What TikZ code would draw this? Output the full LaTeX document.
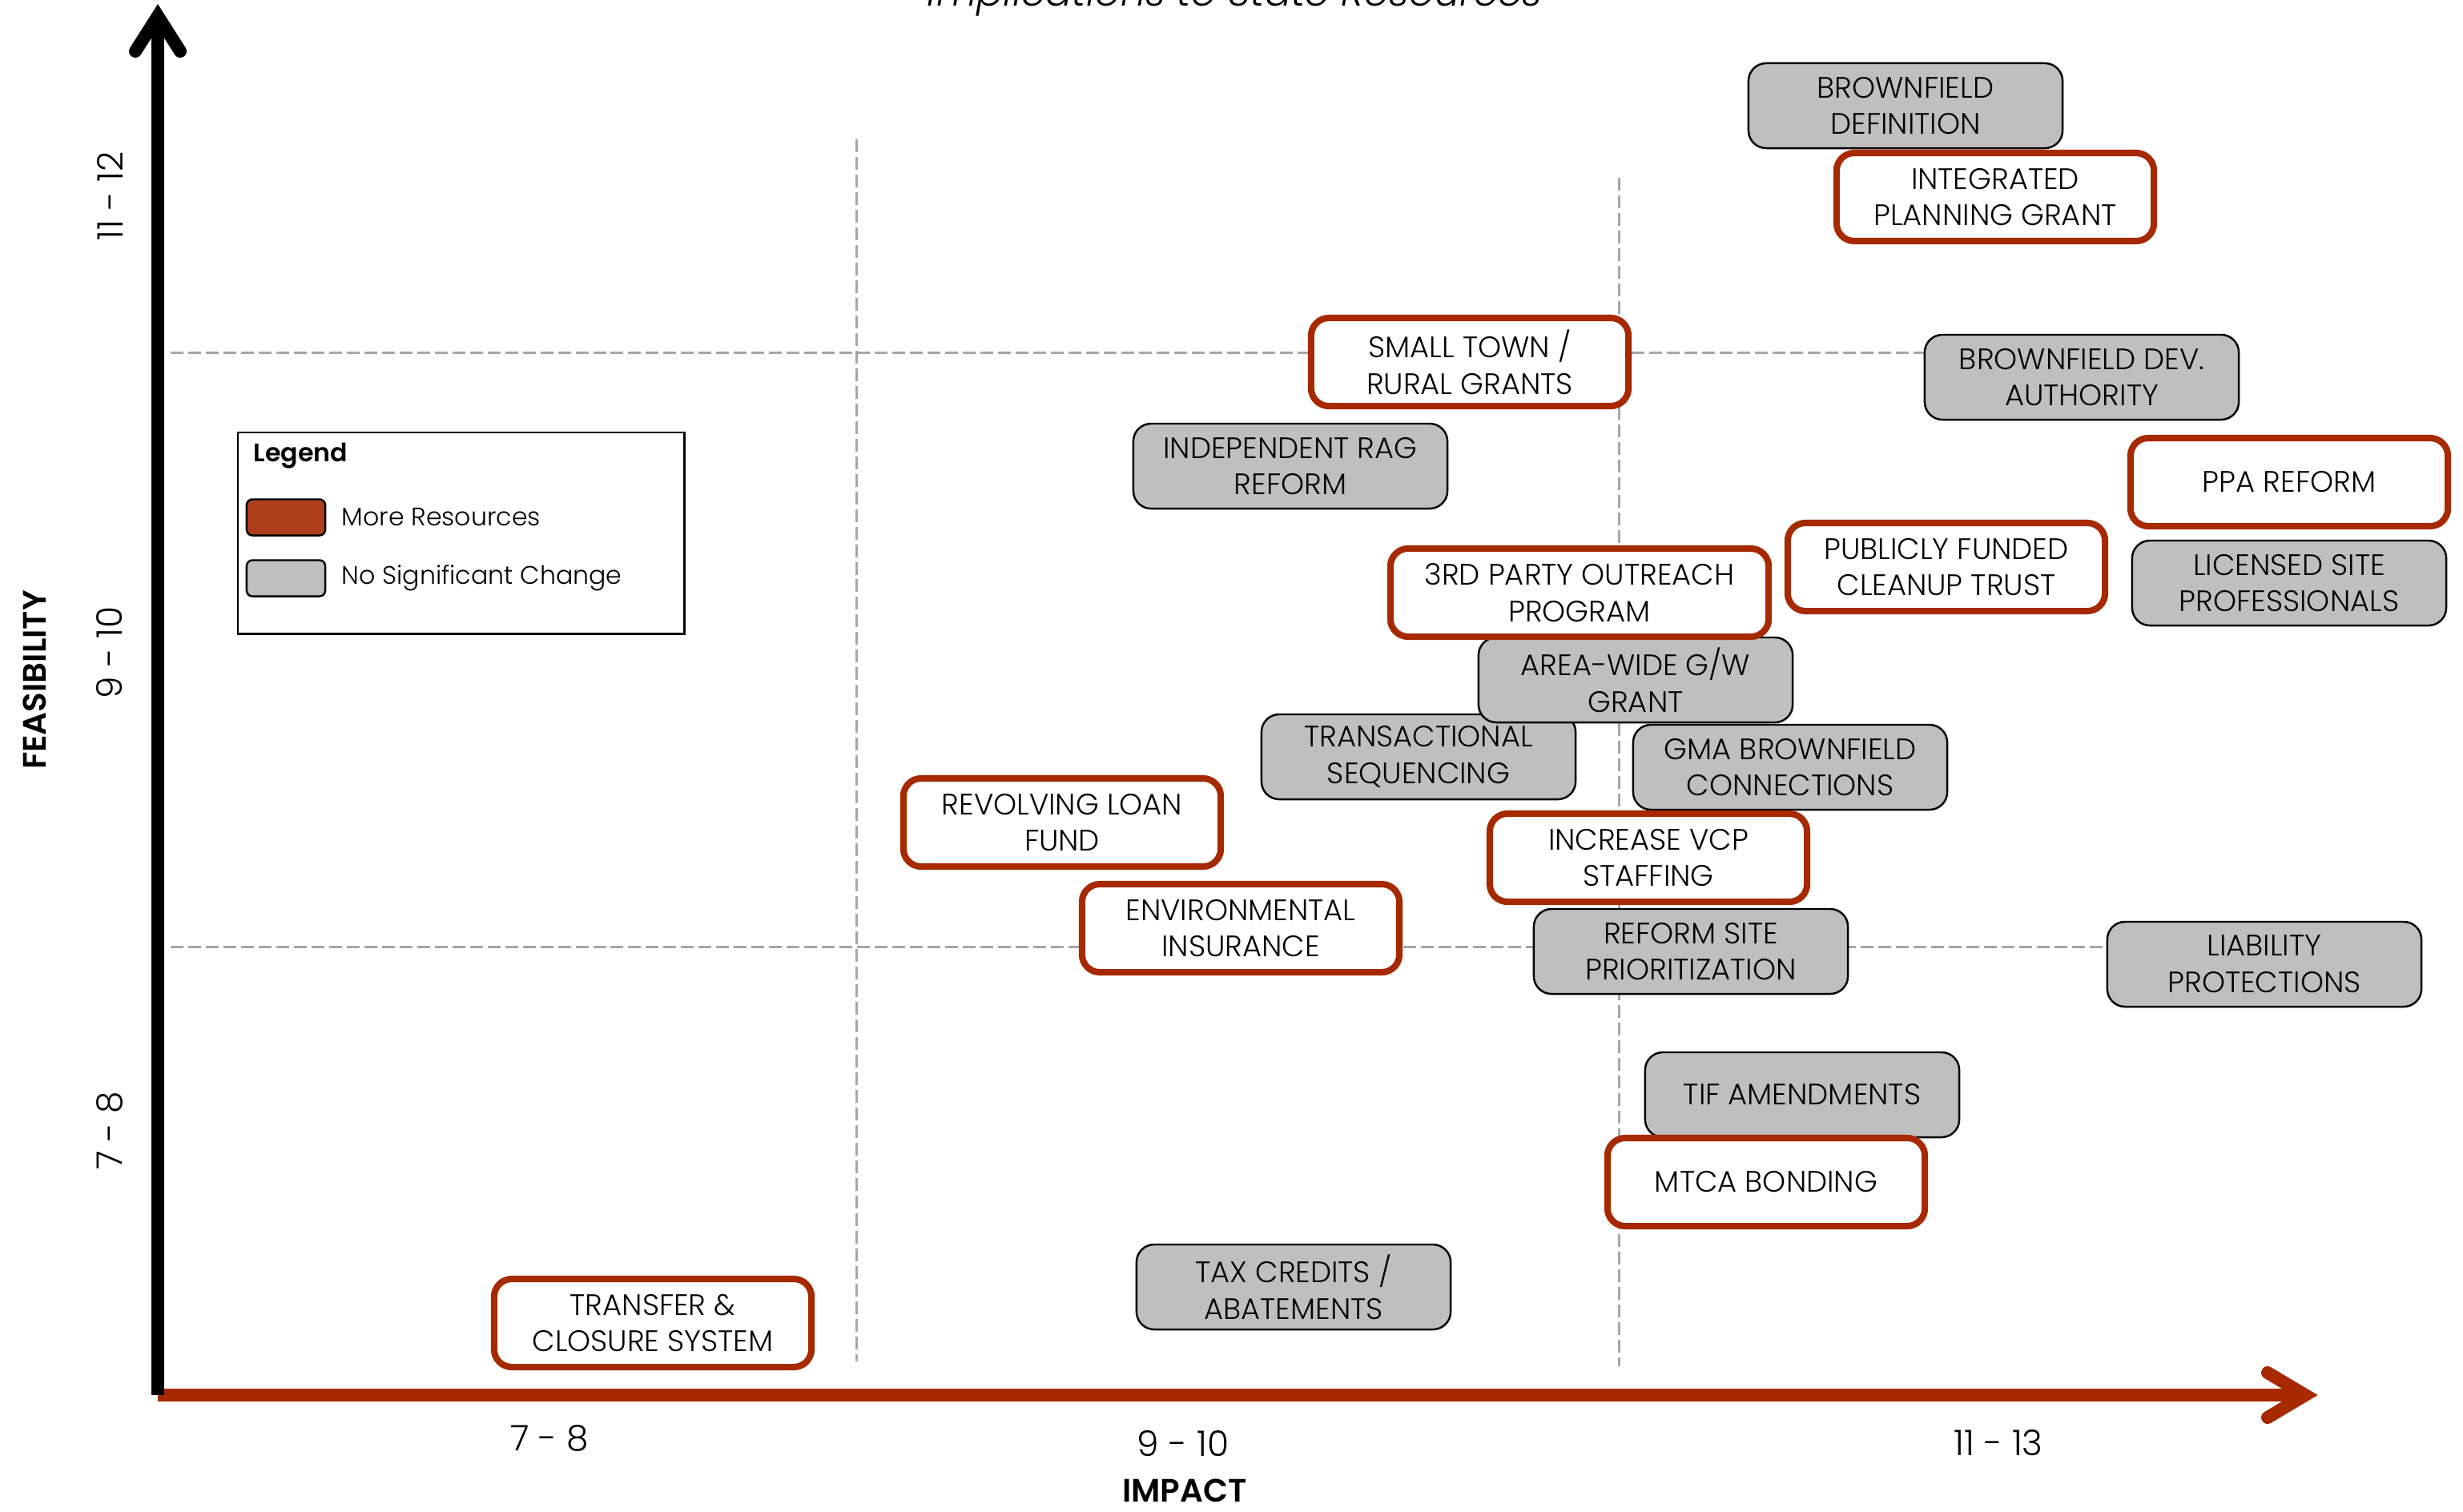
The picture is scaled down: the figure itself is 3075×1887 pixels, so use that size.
\documentclass[tikz,border=0pt]{standalone}
\usepackage{fontspec}
\setmainfont{Poppins Light}[BoldFont={Poppins SemiBold}, ItalicFont={Poppins Light Italic}]
\definecolor{resred}{RGB}{166,41,0}
\definecolor{swatchred}{RGB}{174,63,27}
\definecolor{boxgray}{RGB}{191,191,191}
\definecolor{gridgray}{RGB}{166,166,166}
\begin{document}
\begin{tikzpicture}[x=0.01cm,y=-0.01cm,
  gridline/.style={draw=gridgray, line width=0.85pt, dash pattern=on 4.55pt off 1.7pt},
  item/.style={rounded corners=6.3pt, align=center, inner sep=0pt,
    font=\fontsize{10.5}{13}\selectfont},
  more/.style={item, draw=resred, line width=2.3pt, fill=white,
    minimum width=3.96cm, minimum height=1.10cm},
  same/.style={item, draw=black, line width=0.7pt, fill=boxgray,
    minimum width=3.92cm, minimum height=1.06cm},
  tick/.style={font=\fontsize{12.5}{15}\selectfont, inner sep=0pt},
  axislabel/.style={font=\bfseries\fontsize{11.5}{14}\selectfont, inner sep=0pt},
  swatch/.style={draw=black, line width=0.7pt, rounded corners=2pt,
    minimum width=0.98cm, minimum height=0.45cm, inner sep=0pt},
  legtext/.style={font=\fontsize{9}{11}\selectfont, anchor=west, inner sep=0pt},
]
\useasboundingbox (0,0) rectangle (3075,1887);

% title, mostly above the page edge
\node[font=\itshape\fontsize{14}{17}\selectfont, anchor=base] (title) at (1542,7)
  {Implications to State Resources};

% dashed quadrant lines
\draw[gridline] (1069,174) -- (1069,1700);
\draw[gridline] (2021,222) -- (2021,1706);
\draw[gridline] (213,440) -- (2450,440);
\draw[gridline] (213,1182) -- (2700,1182);

% axes
\coordinate (origin) at (197,1742);
\coordinate (xtip) at (2878,1742);
\coordinate (ytip) at (197,20);
\draw[resred, line width=4.55pt] (origin) -- (xtip);
\draw[resred, line width=4.55pt, line cap=round, line join=miter]
  (2831,1714) -- (xtip) -- (2831,1770);
\draw[black, line width=4.55pt] (origin) -- (ytip);
\draw[black, line width=4.55pt, line cap=round, line join=miter]
  (169,64) -- (ytip) -- (225,64);

% axis labels
\node[tick] (x1) at (686,1796) {7 - 8};
\node[tick] (x2) at (1477,1802) {9 - 10};
\node[tick] (x3) at (2495,1802) {11 - 13};
\node[axislabel] (impact) at (1479,1861) {IMPACT};
\node[axislabel, rotate=90] (feas) at (43,849) {FEASIBILITY};
\node[tick, rotate=90] (y3) at (137,245) {11 - 12};
\node[tick, rotate=90] (y2) at (137,815) {9 - 10};
\node[tick, rotate=90] (y1) at (137,1412) {7 - 8};

% legend
\node[draw=black, line width=0.7pt, anchor=north west, minimum width=5.57cm,
  minimum height=2.51cm, inner sep=0pt] (legend) at (296,539) {};
\node[font=\bfseries\fontsize{9}{11}\selectfont, anchor=west, inner sep=0pt]
  (legtitle) at (316,569) {Legend};
\node[swatch, fill=swatchred] (swmore) at (357,646) {};
\node[swatch, fill=boxgray] (swsame) at (357,722) {};
\node[legtext] (ltmore) at (426,646) {More Resources};
\node[legtext] (ltsame) at (426,722) {No Significant Change};

% no significant change
\node[same] (bfdef) at (2379,132) {BROWNFIELD\\DEFINITION};
\node[same] (bfdev) at (2599,471) {BROWNFIELD DEV.\\AUTHORITY};
\node[same] (rag) at (1611,582) {INDEPENDENT RAG\\REFORM};
\node[same] (lsp) at (2858,728) {LICENSED SITE\\PROFESSIONALS};
\node[same] (transact) at (1771,945) {TRANSACTIONAL\\SEQUENCING};
\node[same] (areawide) at (2042,849) {AREA-WIDE G/W\\GRANT};
\node[same] (gma) at (2235,958) {GMA BROWNFIELD\\CONNECTIONS};
\node[same] (prior) at (2111,1188) {REFORM SITE\\PRIORITIZATION};
\node[same] (liab) at (2827,1204) {LIABILITY\\PROTECTIONS};
\node[same] (tif) at (2250,1367) {TIF AMENDMENTS};
\node[same] (tax) at (1615,1607) {TAX CREDITS /\\ABATEMENTS};

% more resources
\node[more] (ipg) at (2491,246) {INTEGRATED\\PLANNING GRANT};
\node[more] (small) at (1835,452) {SMALL TOWN /\\RURAL GRANTS};
\node[more] (ppa) at (2858,602) {PPA REFORM};
\node[more] (trust) at (2430,708) {PUBLICLY FUNDED\\CLEANUP TRUST};
\node[more, minimum width=4.72cm] (outreach) at (1972,740) {3RD PARTY OUTREACH\\PROGRAM};
\node[more] (rlf) at (1326,1027) {REVOLVING LOAN\\FUND};
\node[more] (envins) at (1549,1159) {ENVIRONMENTAL\\INSURANCE};
\node[more] (vcp) at (2058,1071) {INCREASE VCP\\STAFFING};
\node[more] (mtca) at (2205,1476) {MTCA BONDING};
\node[more] (tcs) at (815,1652) {TRANSFER \&\\CLOSURE SYSTEM};
\end{tikzpicture}
\end{document}
